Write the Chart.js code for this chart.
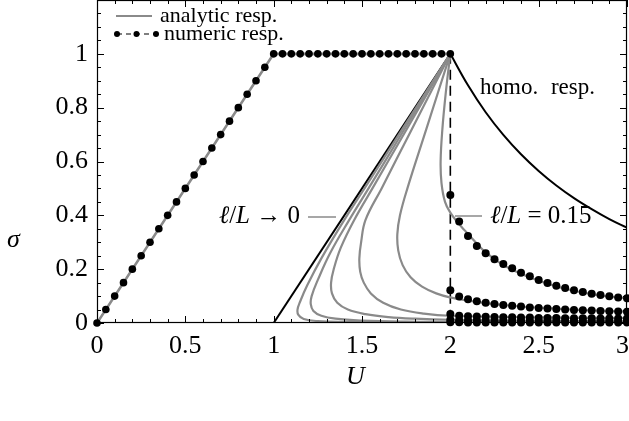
<!DOCTYPE html>
<html>
<head>
<meta charset="utf-8">
<script src="https://cdn.jsdelivr.net/npm/chart.js@4.4.1/dist/chart.umd.min.js"></script>
<style>
  html, body { margin: 0; padding: 0; background: #fff; }
  #wrap { width: 629px; height: 421px; }
</style>
</head>
<body>
<div id="wrap"><canvas id="chart" width="629" height="421"></canvas></div>
<script>
// numeric response up to U = 2 (dots every 0.05)
const numU = [0, 0.05, 0.1, 0.15, 0.2, 0.25, 0.3, 0.35, 0.4, 0.45, 0.5, 0.55, 0.6, 0.65, 0.7, 0.75, 0.8, 0.85, 0.9, 0.95, 1,
  1.05, 1.1, 1.15, 1.2, 1.25, 1.3, 1.35, 1.4, 1.45, 1.5, 1.55, 1.6, 1.65, 1.7, 1.75, 1.8, 1.85, 1.9, 1.95, 2];
const numS = [0, 0.05, 0.1, 0.15, 0.2, 0.25, 0.3, 0.35, 0.4, 0.45, 0.5, 0.55, 0.6, 0.65, 0.7, 0.75, 0.8, 0.85, 0.9, 0.95, 1,
  1, 1, 1, 1, 1, 1, 1, 1, 1, 1, 1, 1, 1, 1, 1, 1, 1, 1, 1, 1];

// numeric response after the drop at U = 2, one row per l/L
const tailU = [2, 2.05, 2.1, 2.15, 2.2, 2.25, 2.3, 2.35, 2.4, 2.45, 2.5, 2.55, 2.6, 2.65, 2.7, 2.75, 2.8, 2.85, 2.9, 2.95, 3];
const rowA = [0.476, 0.377, 0.323, 0.286, 0.259, 0.237, 0.219, 0.203, 0.187, 0.174, 0.160, 0.149, 0.138, 0.130, 0.122, 0.115, 0.109, 0.104, 0.099, 0.095, 0.092];
const rowB = [0.122, 0.098, 0.088, 0.081, 0.075, 0.071, 0.067, 0.064, 0.061, 0.058, 0.056, 0.054, 0.052, 0.050, 0.048, 0.047, 0.046, 0.045, 0.044, 0.043, 0.042];
const rowC = [0.033, 0.027, 0.025, 0.024, 0.023, 0.022, 0.021, 0.021, 0.020, 0.020, 0.019, 0.019, 0.019, 0.018, 0.018, 0.018, 0.018, 0.017, 0.017, 0.017, 0.017];
const rowD = [0.012, 0.010, 0.009, 0.009, 0.008, 0.008, 0.008, 0.008, 0.008, 0.007, 0.007, 0.007, 0.007, 0.007, 0.007, 0.007, 0.007, 0.007, 0.007, 0.007, 0.007];
const rowE = [0.003, 0.003, 0.002, 0.002, 0.002, 0.002, 0.002, 0.002, 0.002, 0.002, 0.002, 0.002, 0.002, 0.002, 0.002, 0.002, 0.002, 0.002, 0.002, 0.002, 0.002];

// analytic response
const anaU = [0, 1, 2];
const anaS = [0, 1, 1];
const c1U = [2, 1.728, 1.514, 1.40, 1.27, 1.19, 1.15, 1.135, 1.14, 1.17, 1.25, 1.4, 1.7, 2, 3];
const c1S = [1, 0.72, 0.5, 0.383, 0.24, 0.14, 0.08, 0.05, 0.03, 0.015, 0.007, 0.004, 0.002, 0.002, 0.001];
const c2U = [2, 1.74, 1.537, 1.428, 1.32, 1.25, 1.215, 1.21, 1.225, 1.27, 1.35, 1.5, 1.75, 2, 2.5, 3];
const c2S = [1, 0.72, 0.5, 0.383, 0.26, 0.16, 0.1, 0.07, 0.045, 0.027, 0.016, 0.009, 0.005, 0.004, 0.003, 0.002];
const c3U = [2, 1.753, 1.559, 1.456, 1.38, 1.34, 1.325, 1.33, 1.36, 1.42, 1.52, 1.65, 1.8, 2, 2.5, 3];
const c3S = [1, 0.72, 0.5, 0.383, 0.28, 0.2, 0.15, 0.11, 0.075, 0.05, 0.033, 0.022, 0.016, 0.012, 0.008, 0.006];
const c4U = [2, 1.782, 1.611, 1.52, 1.495, 1.485, 1.49, 1.51, 1.55, 1.62, 1.72, 1.85, 2, 2.5, 3];
const c4S = [1, 0.72, 0.5, 0.383, 0.3, 0.24, 0.19, 0.15, 0.11, 0.075, 0.05, 0.035, 0.027, 0.021, 0.018];
const c5U = [2, 1.864, 1.757, 1.715, 1.70, 1.705, 1.73, 1.775, 1.84, 1.92, 2, 2.1, 2.2, 2.35, 2.5, 2.75, 3];
const c5S = [1, 0.72, 0.5, 0.4, 0.33, 0.27, 0.215, 0.17, 0.135, 0.11, 0.095, 0.083, 0.074, 0.064, 0.057, 0.048, 0.042];
const c6U = [2, 1.975, 1.955, 1.945, 1.95, 1.97, 2.0, 2.04, 2.08, 2.15, 2.2, 2.3, 2.4, 2.5, 2.6, 2.7, 2.8, 2.9, 3];
const c6S = [1, 0.86, 0.72, 0.6, 0.52, 0.45, 0.41, 0.375, 0.345, 0.295, 0.262, 0.215, 0.183, 0.157, 0.136, 0.12, 0.107, 0.098, 0.092];

// homogeneous response
const homoLinU = [1, 2];
const homoLinS = [0, 1];
const homoU = [2, 2.1, 2.2, 2.3, 2.4, 2.5, 2.6, 2.7, 2.8, 2.9, 3];
const homoS = [1, 0.883, 0.783, 0.699, 0.627, 0.565, 0.511, 0.464, 0.423, 0.386, 0.354];

// drop line of the numeric response
const dropU = [2, 2];
const dropS = [1, 0];

const GRAY = '#8a8a8a';
const SERIF = '"Liberation Serif", "DejaVu Serif", serif';

function pts(us, ss) {
  return us.map((u, i) => ({ x: u, y: ss[i] }));
}

function grayCurve(us, ss) {
  return { data: pts(us, ss), showLine: true, borderColor: GRAY, borderWidth: 2.2,
           pointRadius: 0, tension: 0.4, order: 5, fill: false };
}

function dotRow(ss) {
  return { data: pts(tailU, ss), showLine: false, pointRadius: 4, pointBackgroundColor: '#000',
           pointBorderWidth: 0, order: 1, clip: false };
}

function fmt(v) {
  return String(parseFloat(v.toFixed(2)));
}

// draw text runs, some italic
function runs(ctx, parts, x, y, size, align) {
  let w = 0;
  parts.forEach(p => {
    ctx.font = (p[1] ? 'italic ' : '') + size + 'px ' + SERIF;
    w += ctx.measureText(p[0]).width;
  });
  let cx = align === 'right' ? x - w : x;
  ctx.textAlign = 'left';
  ctx.textBaseline = 'middle';
  parts.forEach(p => {
    ctx.font = (p[1] ? 'italic ' : '') + size + 'px ' + SERIF;
    ctx.fillText(p[0], cx, y);
    cx += ctx.measureText(p[0]).width;
  });
}

const decor = {
  id: 'decor',
  afterDraw(chart) {
    const { ctx, chartArea: a, scales: { x, y } } = chart;
    ctx.save();
    ctx.strokeStyle = '#000';
    ctx.lineWidth = 1.2;
    ctx.strokeRect(a.left + 0.5, a.top + 0.5, a.right - a.left - 1, a.bottom - a.top - 1);

    // inward ticks on all four sides
    ctx.lineWidth = 1;
    ctx.beginPath();
    for (let i = 0; i <= 30; i++) {
      const px = Math.round(x.getPixelForValue(i / 10)) + 0.5;
      const len = i % 5 === 0 ? 7 : 4;
      ctx.moveTo(px, a.bottom); ctx.lineTo(px, a.bottom - len);
      ctx.moveTo(px, a.top); ctx.lineTo(px, a.top + len);
    }
    for (let i = 0; i <= 24; i++) {
      const py = Math.round(y.getPixelForValue(i / 20)) + 0.5;
      const len = i % 4 === 0 ? 7 : 4;
      ctx.moveTo(a.left, py); ctx.lineTo(a.left + len, py);
      ctx.moveTo(a.right, py); ctx.lineTo(a.right - len, py);
    }
    ctx.stroke();

    ctx.fillStyle = '#000';
    // last x tick label pulled inside the canvas
    runs(ctx, [['3', false]], 629, a.bottom + 8 + 15.6, 26, 'right');

    // axis titles
    runs(ctx, [['σ', true]], 7, 240, 26, 'left');
    runs(ctx, [['U', true]], 346, 377, 26, 'left');

    // legend
    ctx.strokeStyle = GRAY;
    ctx.lineWidth = 2.2;
    ctx.beginPath(); ctx.moveTo(116, 16); ctx.lineTo(152, 16); ctx.stroke();
    ctx.strokeStyle = '#000';
    ctx.lineWidth = 1.2;
    ctx.setLineDash([5, 4]);
    ctx.beginPath(); ctx.moveTo(117, 34); ctx.lineTo(156, 34); ctx.stroke();
    ctx.setLineDash([]);
    [117, 136.5, 156].forEach(px => {
      ctx.beginPath(); ctx.arc(px, 34, 3, 0, Math.PI * 2); ctx.fill();
    });
    runs(ctx, [['analytic resp.', false]], 160, 16, 22, 'left');
    runs(ctx, [['numeric resp.', false]], 164, 34, 22, 'left');

    // annotations
    runs(ctx, [['homo.', false]], 480, 88, 23, 'left');
    runs(ctx, [['resp.', false]], 595, 88, 23, 'right');
    runs(ctx, [['ℓ', true], ['/', false], ['L', true], [' → 0', false]], 300, 216, 25, 'right');
    runs(ctx, [['ℓ', true], ['/', false], ['L', true], [' = 0.15', false]], 490, 216, 25, 'left');
    ctx.strokeStyle = GRAY;
    ctx.lineWidth = 1.5;
    ctx.beginPath();
    ctx.moveTo(308, 217); ctx.lineTo(336, 217);
    ctx.moveTo(455, 216); ctx.lineTo(482, 216);
    ctx.stroke();
    ctx.restore();
  }
};

new Chart(document.getElementById('chart'), {
  type: 'scatter',
  data: {
    datasets: [
      // numeric dashed line underneath
      { data: pts(numU, numS), showLine: true, borderColor: '#000', borderWidth: 1.2, borderDash: [5, 4],
        pointRadius: 0, order: 9 },
      { data: pts(dropU, dropS), showLine: true, borderColor: '#000', borderWidth: 1.6, borderDash: [10, 6],
        pointRadius: 0, order: 8 },
      // homogeneous response
      { data: pts(homoLinU, homoLinS), showLine: true, borderColor: '#000', borderWidth: 2,
        pointRadius: 0, order: 7 },
      { data: pts(homoU, homoS), showLine: true, borderColor: '#000', borderWidth: 2,
        pointRadius: 0, tension: 0.4, order: 7 },
      // analytic response
      { data: pts(anaU, anaS), showLine: true, borderColor: GRAY, borderWidth: 2.6,
        pointRadius: 0, order: 5 },
      grayCurve(c1U, c1S),
      grayCurve(c2U, c2S),
      grayCurve(c3U, c3S),
      grayCurve(c4U, c4S),
      grayCurve(c5U, c5S),
      grayCurve(c6U, c6S),
      // numeric dots
      { data: pts(numU, numS), showLine: false, pointRadius: 3.8, pointBackgroundColor: '#000',
        pointBorderWidth: 0, order: 1, clip: false },
      dotRow(rowA),
      dotRow(rowB),
      dotRow(rowC),
      dotRow(rowD),
      dotRow(rowE)
    ]
  },
  options: {
    responsive: false,
    animation: false,
    layout: { autoPadding: false, padding: { top: 0, right: 2, left: 0, bottom: 0 } },
    plugins: { legend: { display: false }, tooltip: { enabled: false } },
    scales: {
      x: {
        type: 'linear', min: 0, max: 3,
        grid: { display: false, drawTicks: false },
        border: { display: false },
        ticks: { stepSize: 0.5, color: '#000', padding: 8, maxRotation: 0,
                 font: { family: SERIF, size: 26 }, callback: v => (v > 2.99 ? '' : fmt(v)) },
        afterFit(s) { s.height = 98; s.paddingLeft = 0; s.paddingRight = 0; }
      },
      y: {
        type: 'linear', min: 0, max: 1.2,
        grid: { display: false, drawTicks: false },
        border: { display: false },
        ticks: { stepSize: 0.2, color: '#000', padding: 9,
                 font: { family: SERIF, size: 26 }, callback: v => (v > 1.01 ? '' : fmt(v)) },
        afterFit(s) { s.width = 97; s.paddingTop = 0; s.paddingBottom = 0; }
      }
    }
  },
  plugins: [decor]
});
</script>
</body>
</html>
